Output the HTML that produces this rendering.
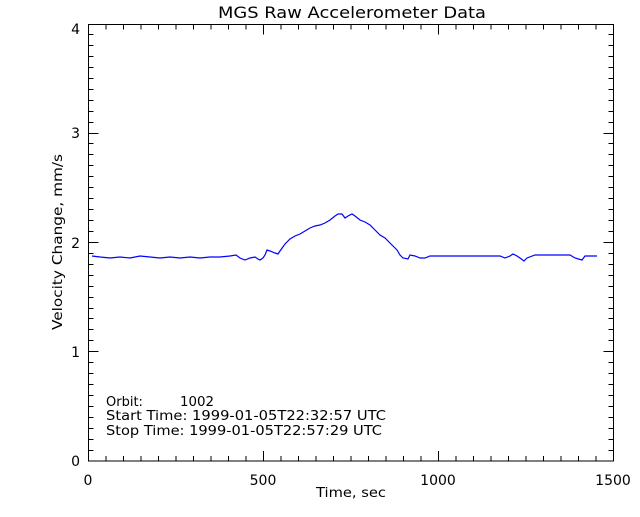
<!DOCTYPE html>
<html><head><style>body{margin:0;background:#fff}svg text{font-family:"DejaVu Sans","Liberation Sans",sans-serif;font-size:13px;fill:#000}</style></head>
<body><svg width="640" height="512" xmlns="http://www.w3.org/2000/svg">
<rect width="640" height="512" fill="#fff"/>
<text x="218" y="18" textLength="268" lengthAdjust="spacingAndGlyphs" style="font-size:16px">MGS Raw Accelerometer Data</text>
<rect x="88.5" y="24.5" width="525" height="436.5" fill="none" stroke="#000"/>
<g stroke="#000" fill="none">
<path d="M88.5 461v-10M106 461v-5M123.5 461v-5M141 461v-5M158.5 461v-5M176 461v-5M193.5 461v-5M211 461v-5M228.5 461v-5M246 461v-5M263.5 461v-10M281 461v-5M298.5 461v-5M316 461v-5M333.5 461v-5M351 461v-5M368.5 461v-5M386 461v-5M403.5 461v-5M421 461v-5M438.5 461v-10M456 461v-5M473.5 461v-5M491 461v-5M508.5 461v-5M526 461v-5M543.5 461v-5M561 461v-5M578.5 461v-5M596 461v-5"/>
<path d="M88.5 24.5v10M106 24.5v5M123.5 24.5v5M141 24.5v5M158.5 24.5v5M176 24.5v5M193.5 24.5v5M211 24.5v5M228.5 24.5v5M246 24.5v5M263.5 24.5v10M281 24.5v5M298.5 24.5v5M316 24.5v5M333.5 24.5v5M351 24.5v5M368.5 24.5v5M386 24.5v5M403.5 24.5v5M421 24.5v5M438.5 24.5v10M456 24.5v5M473.5 24.5v5M491 24.5v5M508.5 24.5v5M526 24.5v5M543.5 24.5v5M561 24.5v5M578.5 24.5v5M596 24.5v5"/>
<path d="M88.5 450.5h5M88.5 439.5h5M88.5 428.5h5M88.5 417.5h5M88.5 406.5h5M88.5 395.5h5M88.5 384.5h5M88.5 373.5h5M88.5 362.5h5M88.5 351.5h10M88.5 340.5h5M88.5 329.5h5M88.5 318.5h5M88.5 308.5h5M88.5 297.5h5M88.5 286.5h5M88.5 275.5h5M88.5 264.5h5M88.5 253.5h5M88.5 242.5h10M88.5 231.5h5M88.5 220.5h5M88.5 209.5h5M88.5 198.5h5M88.5 187.5h5M88.5 176.5h5M88.5 165.5h5M88.5 154.5h5M88.5 143.5h5M88.5 133.5h10M88.5 122.5h5M88.5 111.5h5M88.5 100.5h5M88.5 89.5h5M88.5 78.5h5M88.5 67.5h5M88.5 56.5h5M88.5 45.5h5M88.5 34.5h5"/>
<path d="M613.5 450.5h-5M613.5 439.5h-5M613.5 428.5h-5M613.5 417.5h-5M613.5 406.5h-5M613.5 395.5h-5M613.5 384.5h-5M613.5 373.5h-5M613.5 362.5h-5M613.5 351.5h-10M613.5 340.5h-5M613.5 329.5h-5M613.5 318.5h-5M613.5 308.5h-5M613.5 297.5h-5M613.5 286.5h-5M613.5 275.5h-5M613.5 264.5h-5M613.5 253.5h-5M613.5 242.5h-10M613.5 231.5h-5M613.5 220.5h-5M613.5 209.5h-5M613.5 198.5h-5M613.5 187.5h-5M613.5 176.5h-5M613.5 165.5h-5M613.5 154.5h-5M613.5 143.5h-5M613.5 133.5h-10M613.5 122.5h-5M613.5 111.5h-5M613.5 100.5h-5M613.5 89.5h-5M613.5 78.5h-5M613.5 67.5h-5M613.5 56.5h-5M613.5 45.5h-5M613.5 34.5h-5"/>
</g>
<text x="88" y="485" text-anchor="middle" style="font-size:14px">0</text>
<text x="263" y="485" text-anchor="middle" style="font-size:14px">500</text>
<text x="438" y="485" text-anchor="middle" style="font-size:14px">1000</text>
<text x="613" y="485" text-anchor="middle" style="font-size:14px">1500</text>
<text x="80" y="466" text-anchor="end" style="font-size:14px">0</text>
<text x="80" y="357" text-anchor="end" style="font-size:14px">1</text>
<text x="80" y="248" text-anchor="end" style="font-size:14px">2</text>
<text x="80" y="138" text-anchor="end" style="font-size:14px">3</text>
<text x="80" y="34" text-anchor="end" style="font-size:14px">4</text>
<text x="316" y="497" textLength="70" lengthAdjust="spacingAndGlyphs">Time, sec</text>
<text transform="translate(62,330) rotate(-90)" textLength="176" lengthAdjust="spacingAndGlyphs">Velocity Change, mm/s</text>
<text x="106" y="406">Orbit:</text><text x="180" y="406" textLength="34" lengthAdjust="spacingAndGlyphs">1002</text>
<text x="106" y="420" textLength="280" lengthAdjust="spacingAndGlyphs">Start Time: 1999-01-05T22:32:57 UTC</text>
<text x="106" y="435" textLength="276" lengthAdjust="spacingAndGlyphs">Stop Time: 1999-01-05T22:57:29 UTC</text>
<polyline fill="none" stroke="#00f" stroke-width="1.2" points="92,256 100,257 110,258 120,257 130,258 140,256 150,257 160,258 170,257 180,258 190,257 200,258 210,257 220,257 230,256 236,255 240,258 245,260 250,258 255,257 258,259 260,260 263,258 265,255 267,250 270,251 275,253 278,254 280,251 285,244 290,239 295,236 300,234 305,231 310,228 315,226 320,225 325,223 330,220 335,216 338,214 342,214 345,218 348,216 352,214 355,216 360,220 365,222 370,225 375,230 380,235 385,238 390,243 394,247 397,250 400,255 403,258 408,259 410,255 415,256 420,258 425,258 430,256 440,256 500,256 505,258 510,256 513,254 517,256 520,258 524,261 527,258 535,255 570,255 575,258 582,260 585,256 597,256"/>
</svg></body></html>
